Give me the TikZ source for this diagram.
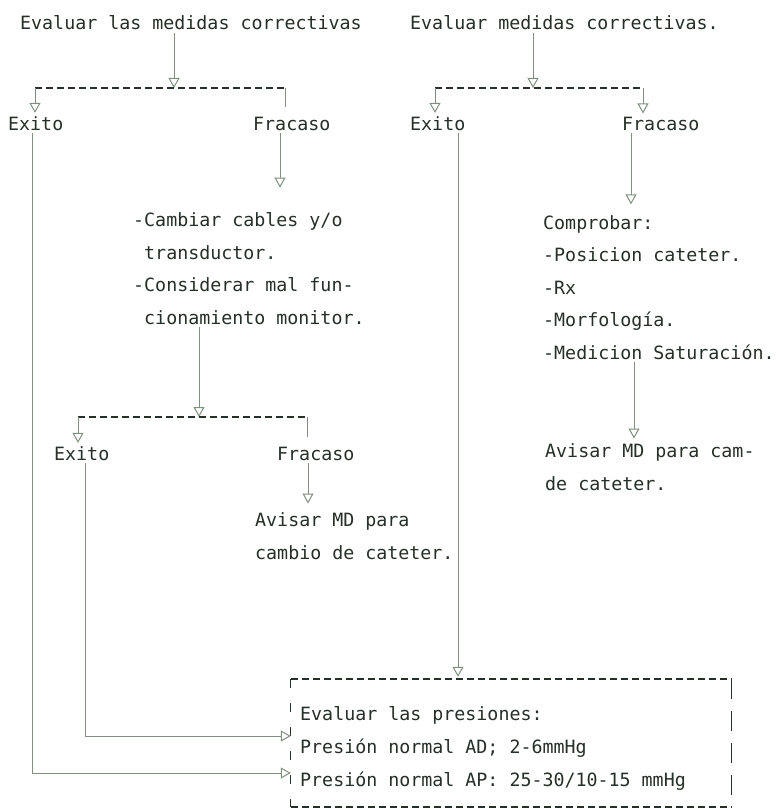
\documentclass[tikz,border=0pt]{standalone}
\usepackage{fontspec}
\newfontfamily\dotfont{DejaVu Sans Mono}
\usetikzlibrary{arrows.meta}
\definecolor{ink}{HTML}{263028}
\definecolor{wirec}{HTML}{7F907F}
\begin{document}
\begin{tikzpicture}[x=1bp,y=-1bp,
  txt/.style={font=\dotfont\fontsize{18.3bp}{32.4bp}\selectfont, text=ink,
    inner xsep=0pt, inner ysep=3bp, anchor=base west, align=left},
  wire/.style={draw=wirec, line width=1bp},
  arr/.style={wire, -{Triangle[open,length=10bp,width=11bp]}},
  bar/.style={draw=ink, line width=1.5bp, dash pattern=on 7bp off 4bp},
  boxl/.style={draw=ink, line width=1.3bp, dash pattern=on 9bp off 15bp},
  boxr/.style={draw=ink, line width=1.3bp, dash pattern=on 20bp off 12bp}]
\useasboundingbox[fill=white] (0,0) rectangle (776,810);

% --- text blocks (multi-line blocks are anchored at their last baseline) ---
\node[txt] (t1) at (20,30) {Evaluar las medidas correctivas};
\node[txt] (t2) at (410,30) {Evaluar medidas correctivas.};
\node[txt] (e1) at (8,130) {Exito};
\node[txt] (f1) at (253,130) {Fracaso};
\node[txt] (e2) at (410,130) {Exito};
\node[txt] (f2) at (622,130) {Fracaso};
\node[txt] (c1) at (133,324) {-Cambiar cables y/o\\\hphantom{-}transductor.\\-Considerar mal fun-\\\hphantom{-}cionamiento monitor.};
\node[txt] (c2) at (543,359) {Comprobar:\\-Posicion cateter.\\-Rx\\-Morfología.\\-Medicion Saturación.};
\node[txt] (e3) at (54,460) {Exito};
\node[txt] (f3) at (277,460) {Fracaso};
\node[txt] (a1) at (255,559) {Avisar MD para\\cambio de cateter.};
\node[txt] (a2) at (545,490) {Avisar MD para cam-\\de cateter.};

% --- final box ---
\node[minimum width=440bp, minimum height=128bp, inner sep=0pt] (box) at (511,743) {};
\node[txt, font=\dotfont\fontsize{18.3bp}{33bp}\selectfont] (pres) at (300,786)
  {Evaluar las presiones:\\Presión normal AD; 2-6mmHg\\Presión normal AP: 25-30/10-15 mmHg};
\draw[bar] (box.north west) -- (box.north east);
\draw[bar] (box.south west) -- (box.south east);
\draw[boxl] (box.north west) -- (box.south west);
\draw[boxr] (box.north east) -- (box.south east);

% --- junction points and lanes ---
\coordinate (b1l) at (35,88);  \coordinate (b1m) at (174,88);  \coordinate (b1r) at (285,88);
\coordinate (b2l) at (435,88); \coordinate (b2m) at (533,88);  \coordinate (b2r) at (643,88);
\coordinate (b3l) at (78,417); \coordinate (b3m) at (199,417); \coordinate (b3r) at (307,417);
\coordinate (xf1) at (280,0);  \coordinate (xf2) at (631,0);   \coordinate (xa2) at (634,0);
\coordinate (xe2) at (458,0);  \coordinate (xf3) at (308,0);
\coordinate (k1) at (32,773);  \coordinate (k2) at (85,736);

% --- left branch ---
\draw[arr] (t1.south -| b1m) -- (b1m);
\draw[bar] (b1l) -- (b1r);
\draw[arr] (b1l) -- (e1.north -| b1l);
\draw[wire, shorten >=6bp] (b1r) -- (f1.north -| b1r);
\draw[arr, shorten >=22bp] (f1.south -| xf1) -- (c1.north -| xf1);
\draw[arr] (c1.south -| b3m) -- (b3m);
\draw[bar] (b3l) -- (b3r);
\draw[arr] (b3l) -- (e3.north -| b3l);
\draw[wire, shorten >=6bp] (b3r) -- (f3.north -| b3r);
\draw[arr, shorten >=6bp] (f3.south -| xf3) -- (a1.north -| xf3);
\draw[arr] (e1.south -| k1) -- (k1) -- (k1 -| box.west);
\draw[arr] (e3.south -| k2) -- (k2) -- (k2 -| box.west);

% --- right branch ---
\draw[arr] (t2.south -| b2m) -- (b2m);
\draw[bar] (b2l) -- (b2r);
\draw[arr] (b2l) -- (e2.north -| b2l);
\draw[arr] (b2r) -- (f2.north -| b2r);
\draw[arr, shorten >=8bp] (f2.south -| xf2) -- (c2.north -| xf2);
\draw[arr, shorten >=2bp] (c2.south -| xa2) -- (a2.north -| xa2);
\draw[arr, shorten >=2bp] (e2.south -| xe2) -- (box.north -| xe2);
\end{tikzpicture}
\end{document}
